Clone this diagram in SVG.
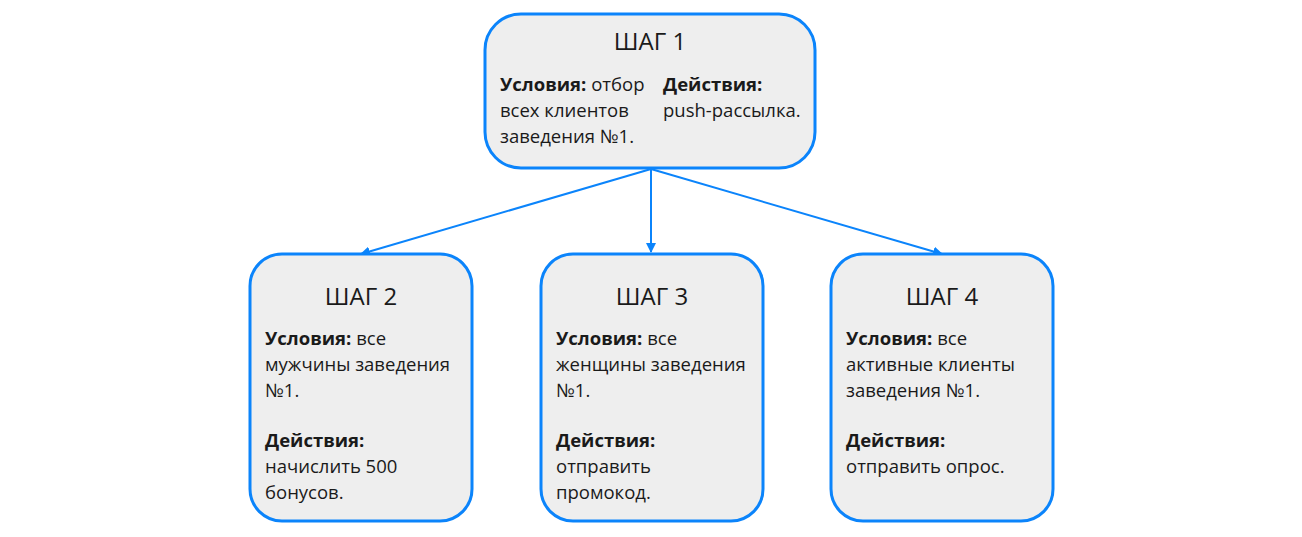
<svg xmlns="http://www.w3.org/2000/svg" width="1302" height="537" viewBox="0 0 1302 537">
<style>
.box{fill:#eeeeee;stroke:#0b84fb;stroke-width:3}
.t{font-family:"Open Sans","Noto Sans",sans-serif;font-size:18.5px;fill:#1a1a1a}
.h{font-family:"Open Sans","Noto Sans",sans-serif;font-size:24px;fill:#1a1a1a;text-anchor:middle}
.b{font-weight:bold}
.c{stroke:#0b84fb;stroke-width:2;fill:none}
</style>
<defs>
<marker id="ah" viewBox="0 0 10 10" refX="9" refY="5" markerWidth="5" markerHeight="5" orient="auto"><path d="M0,0 L10,5 L0,10 z" fill="#0b84fb"/></marker>
</defs>
<g id="connectors">
<line class="c" x1="651" y1="169" x2="361" y2="254" marker-end="url(#ah)"/>
<line class="c" x1="651" y1="169" x2="651" y2="252" marker-end="url(#ah)"/>
<line class="c" x1="651" y1="169" x2="942" y2="254" marker-end="url(#ah)"/>
</g>
<g id="step1">
<rect class="box" x="485" y="14" width="330" height="154" rx="36"/>
<text class="h" x="650" y="50">ШАГ 1</text>
<text class="t" x="500" y="91"><tspan class="b">Условия:</tspan> отбор</text>
<text class="t" x="500" y="117">всех клиентов</text>
<text class="t" x="500" y="143">заведения №1.</text>
<text class="t b" x="663" y="91">Действия:</text>
<text class="t" x="663" y="117">push-рассылка.</text>
</g>
<g id="step2">
<rect class="box" x="250" y="254" width="222" height="267" rx="32"/>
<text class="h" x="361" y="305">ШАГ 2</text>
<text class="t" x="265" y="345"><tspan class="b">Условия:</tspan> все</text>
<text class="t" x="265" y="371">мужчины заведения</text>
<text class="t" x="265" y="397">№1.</text>
<text class="t b" x="265" y="447">Действия:</text>
<text class="t" x="265" y="473">начислить 500</text>
<text class="t" x="265" y="499">бонусов.</text>
</g>
<g id="step3">
<rect class="box" x="541" y="254" width="222" height="267" rx="32"/>
<text class="h" x="652" y="305">ШАГ 3</text>
<text class="t" x="556" y="345"><tspan class="b">Условия:</tspan> все</text>
<text class="t" x="556" y="371">женщины заведения</text>
<text class="t" x="556" y="397">№1.</text>
<text class="t b" x="556" y="447">Действия:</text>
<text class="t" x="556" y="473">отправить</text>
<text class="t" x="556" y="499">промокод.</text>
</g>
<g id="step4">
<rect class="box" x="831" y="254" width="222" height="267" rx="32"/>
<text class="h" x="942" y="305">ШАГ 4</text>
<text class="t" x="846" y="345"><tspan class="b">Условия:</tspan> все</text>
<text class="t" x="846" y="371">активные клиенты</text>
<text class="t" x="846" y="397">заведения №1.</text>
<text class="t b" x="846" y="447">Действия:</text>
<text class="t" x="846" y="473">отправить опрос.</text>
</g>
</svg>
